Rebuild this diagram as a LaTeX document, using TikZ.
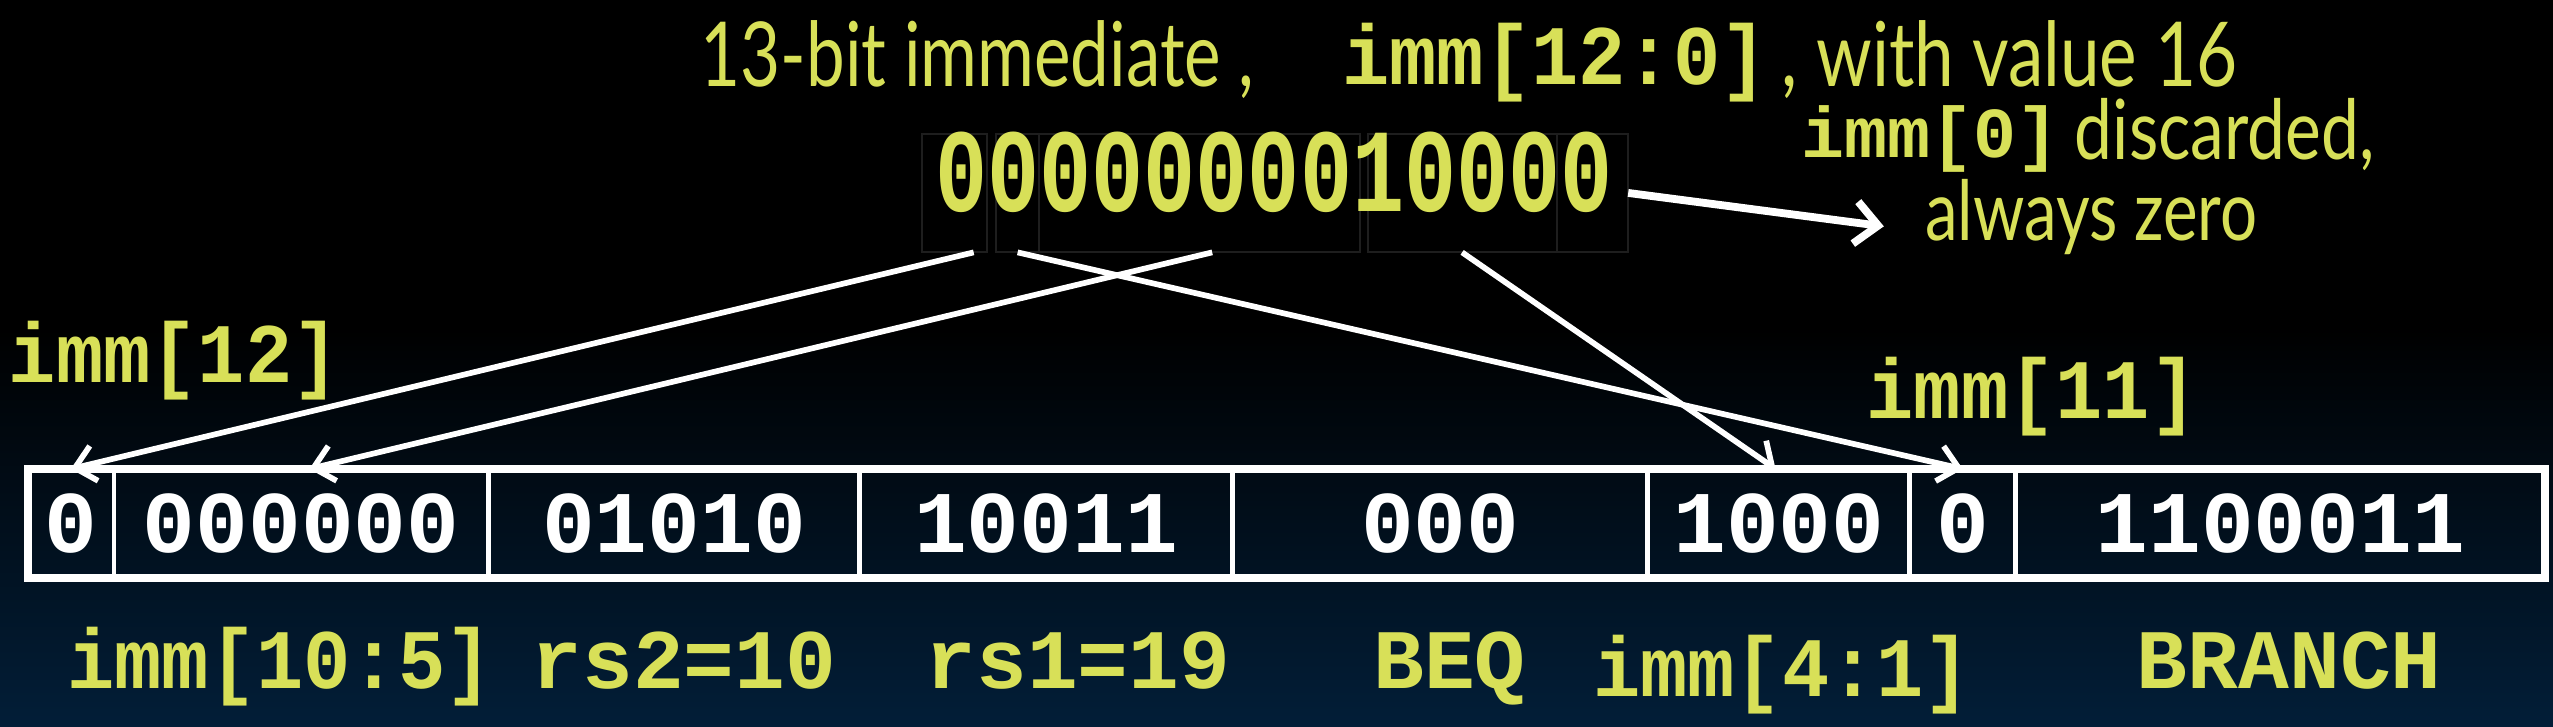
\documentclass[tikz,border=0pt]{standalone}
\usepackage{fontspec}
\usepackage{graphicx}
\setmonofont{Liberation Mono}
\newfontfamily\cond{Lato}
\usetikzlibrary{arrows.meta,calc}
\definecolor{ylw}{RGB}{216,224,88}
\definecolor{navy}{RGB}{2,30,56}
\definecolor{faint}{RGB}{30,30,30}
\begin{document}
\begin{tikzpicture}[x=0.5pt,y=-0.5pt,
  sanstitle/.style={text=ylw,inner sep=0pt,anchor=base west,font=\cond\fontsize{27.5}{30}\selectfont},
  sanssmall/.style={text=ylw,inner sep=0pt,anchor=base west,font=\cond\fontsize{25.5}{28}\selectfont},
  monolbl/.style={text=ylw,inner sep=0pt,anchor=base west,font=\ttfamily\bfseries\fontsize{26}{30}\selectfont},
  monosmall/.style={text=ylw,inner sep=0pt,anchor=base west,font=\ttfamily\bfseries\fontsize{22}{26}\selectfont},
  cell/.style={draw=white,line width=1.5pt,minimum height=33.5pt,inner sep=0pt,outer sep=0pt,text=white,font=\ttfamily\bfseries\fontsize{27}{30}\selectfont},
  topbox/.style={draw=faint,line width=0.6pt,minimum height=36.5pt,inner sep=0pt,outer sep=0pt},
  conn/.style={draw=white,line width=1.75pt,-{Straight Barb[length=6pt,width=11pt]}},
  connthick/.style={draw=white,line width=2.4pt,-{Straight Barb[length=7pt,width=13pt]}}
]
\useasboundingbox (0,0) rectangle (1568,446);
\fill[black] (0,0) rectangle (1568,446);
\shade[top color=black,bottom color=navy] (0,200) rectangle (1568,446);

% title
\node[sanstitle] (t1) at (430,53) {\resizebox{170pt}{\height}{13-bit immediate ,}};
\node[monolbl] (t2) at (824,52) {\scalebox{0.93}[1]{imm[12:0]}};
\node[sanstitle] (t3) at (1094,53) {\resizebox{140pt}{\height}{, with value 16}};
\node[monosmall] (i0) at (1106,97) {imm[0]};
\node[sanssmall] (disc) at (1274,98) {\resizebox{92pt}{\height}{discarded,}};
\node[sanssmall] (az) at (1182,148) {\resizebox{102pt}{\height}{always zero}};

% top immediate boxes
\node[topbox,minimum width=20pt] (A) at (586,118.5) {};
\node[topbox,minimum width=13pt] (B) at (625,118.5) {};
\node[topbox,minimum width=98.5pt] (C) at (736.5,118.5) {};
\node[topbox,minimum width=58pt] (D) at (898,118.5) {};
\node[topbox,minimum width=22pt] (E) at (978,118.5) {};
\node[text=ylw,inner sep=0pt,anchor=base,font=\ttfamily\bfseries\fontsize{36.5}{40}\selectfont] (digits) at (782.5,130) {\scalebox{0.73}[1]{0000000010000}};

% instruction cells
\node[cell,minimum width=26.5pt] (c1) at (43.5,321.5) {0};
\node[cell,minimum width=115pt] (c2) at (185,321.5) {000000};
\node[cell,minimum width=114pt] (c3) at (414,321.5) {01010};
\node[cell,minimum width=114.5pt] (c4) at (642.5,321.5) {10011};
\node[cell,minimum width=127.5pt] (c5) at (884.5,321.5) {000};
\node[cell,minimum width=80.5pt] (c6) at (1092.5,321.5) {1000};
\node[cell,minimum width=32.5pt] (c7) at (1205.5,321.5) {0};
\node[cell,minimum width=162.5pt] (c8) at (1400.5,321.5) {1100011};
\draw[white,line width=2.5pt] (c1.north west) rectangle (c8.south east);

% labels
\node[monolbl] (l12) at (5,235) {\scalebox{0.93}[1]{imm[12]}};
\node[monolbl] (l11) at (1146,257) {\scalebox{0.93}[1]{imm[11]}};
\node[monolbl] (l105) at (41,423) {\scalebox{0.93}[1]{imm[10:5]}};
\node[monolbl] (lrs2) at (326,423) {rs2=10};
\node[monolbl] (lrs1) at (568,423) {rs1=19};
\node[monolbl] (lbeq) at (843,423) {BEQ};
\node[monolbl] (l41) at (978,428) {\scalebox{0.93}[1]{imm[4:1]}};
\node[monolbl] (lbr) at (1312,423) {BRANCH};

% connectors
\coordinate (tip5) at (1157,139);
\draw[conn] ([xshift=6pt]A.south) -- (c1.north);
\draw[conn] ([xshift=4pt]C.south) -- ([xshift=2.5pt]c2.north);
\draw[conn] (B.south) -- (c7.north);
\draw[conn] (D.south) -- ([xshift=-1pt]c6.north);
\draw[connthick] (E.east) -- (tip5);
\end{tikzpicture}
\end{document}
